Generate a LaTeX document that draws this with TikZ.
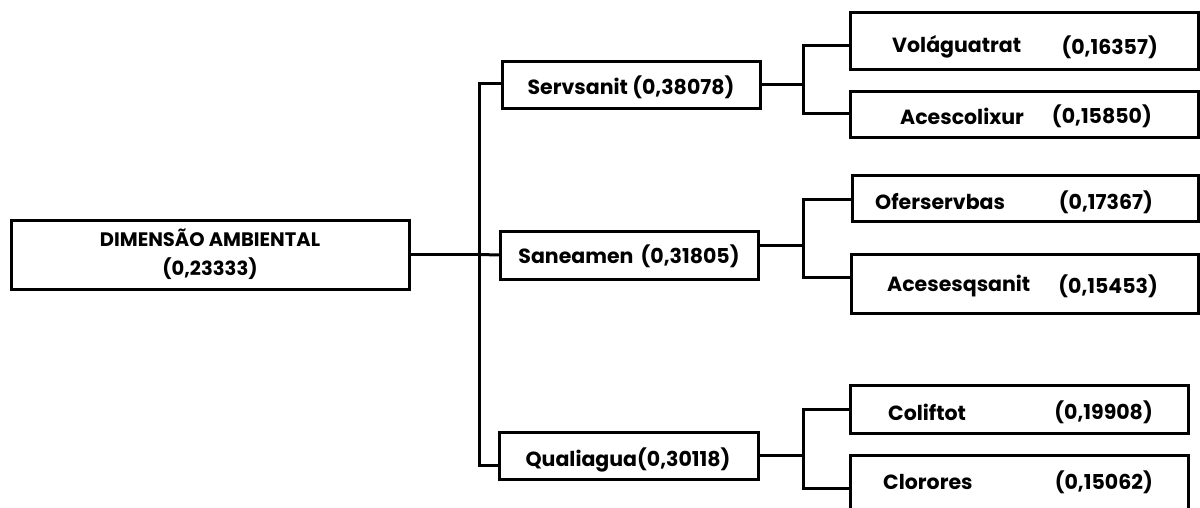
\documentclass[tikz,border=0pt]{standalone}
\usepackage{fontspec}
\setmainfont{Poppins}
\begin{document}
\begin{tikzpicture}[x=1pt,y=-1pt,
  box/.style={draw=black,line width=3pt,rectangle,inner sep=0pt,outer sep=0pt,anchor=north west},
  conn/.style={draw=black,line width=3pt,line cap=rect},
  txt/.style={font=\fontsize{20.5}{24}\selectfont\bfseries,inner sep=0pt,text=black}]
\useasboundingbox (0,0) rectangle (1200,507);
\clip (0,0) rectangle (1200,507);
% root
\node[box,minimum width=398pt,minimum height=69pt] (root) at (11,220) {};
\node[txt,align=center,font=\fontsize{19.5}{29}\selectfont\bfseries] (roott) at (210,254) {DIMENSÃO AMBIENTAL\\(0,23333)};
% level 1
\node[box,minimum width=258pt,minimum height=47pt] (serv) at (502,61) {};
\node[txt] (servt) at (631,87) {Servsanit (0,38078)};
\node[box,minimum width=258pt,minimum height=48pt] (san) at (500,231) {};
\node[txt] (sant) at (629,256) {Saneamen\hspace{0.35em}(0,31805)};
\node[box,minimum width=259pt,minimum height=47pt] (qual) at (499,432) {};
\node[txt] (qualt) at (628,460) {Qualiagua(0,30118)};
% leaves
\node[box,minimum width=348pt,minimum height=57pt] (vol) at (850,12) {};
\node[txt,anchor=west] (volt) at (892,47) {Voláguatrat};
\node[txt,anchor=east] (volv) at (1158,47) {(0,16357)};
\node[box,minimum width=348pt,minimum height=46pt] (ace) at (850,91) {};
\node[txt,anchor=west] (acet) at (900,116) {Acescolixur};
\node[txt,anchor=east] (acev) at (1152,116) {(0,15850)};
\node[box,minimum width=346pt,minimum height=46pt] (ofe) at (852,175) {};
\node[txt,anchor=west] (ofet) at (875,202) {Oferservbas};
\node[txt,anchor=east] (ofev) at (1153,202) {(0,17367)};
\node[box,minimum width=347pt,minimum height=59pt] (acs) at (851,254) {};
\node[txt,anchor=west] (acst) at (887,286) {Acesesqsanit};
\node[txt,anchor=east] (acsv) at (1158,286) {(0,15453)};
\node[box,minimum width=338pt,minimum height=48pt] (col) at (850,385) {};
\node[txt,anchor=west] (colt) at (888,412) {Coliftot};
\node[txt,anchor=east] (colv) at (1153,412) {(0,19908)};
\node[box,minimum width=338pt,minimum height=70pt] (clo) at (850,455) {};
\node[txt,anchor=west] (clot) at (883,482) {Clorores};
\node[txt,anchor=east] (clov) at (1153,482) {(0,15062)};
% trunk
\coordinate (tt) at (479,83);
\coordinate (tm) at (479,254.5);
\coordinate (tb) at (479,465);
\draw[conn] (root.east) -- (tm);
\draw[conn] (tt) -- (tb);
\draw[conn] (tt) -- (tt -| serv.west);
\draw[conn] (tm) -- (san.west);
\draw[conn] (tb) -- (tb -| qual.west);
% branch 1
\coordinate (b1m) at (803,84.5);
\coordinate (b1t) at (803,45);
\coordinate (b1b) at (803,113);
\draw[conn] (serv.east) -- (b1m);
\draw[conn] (b1t -| vol.west) -- (b1t) -- (b1b) -- (b1b -| ace.west);
% branch 2
\coordinate (b2m) at (803,245);
\coordinate (b2t) at (803,199);
\coordinate (b2b) at (803,277);
\draw[conn] (b2m -| san.east) -- (b2m);
\draw[conn] (b2t -| ofe.west) -- (b2t) -- (b2b) -- (b2b -| acs.west);
% branch 3
\coordinate (b3m) at (803,455.5);
\coordinate (b3t) at (803,409);
\coordinate (b3b) at (803,488);
\draw[conn] (qual.east) -- (b3m);
\draw[conn] (b3t -| col.west) -- (b3t) -- (b3b) -- (b3b -| clo.west);
\end{tikzpicture}
\end{document}
